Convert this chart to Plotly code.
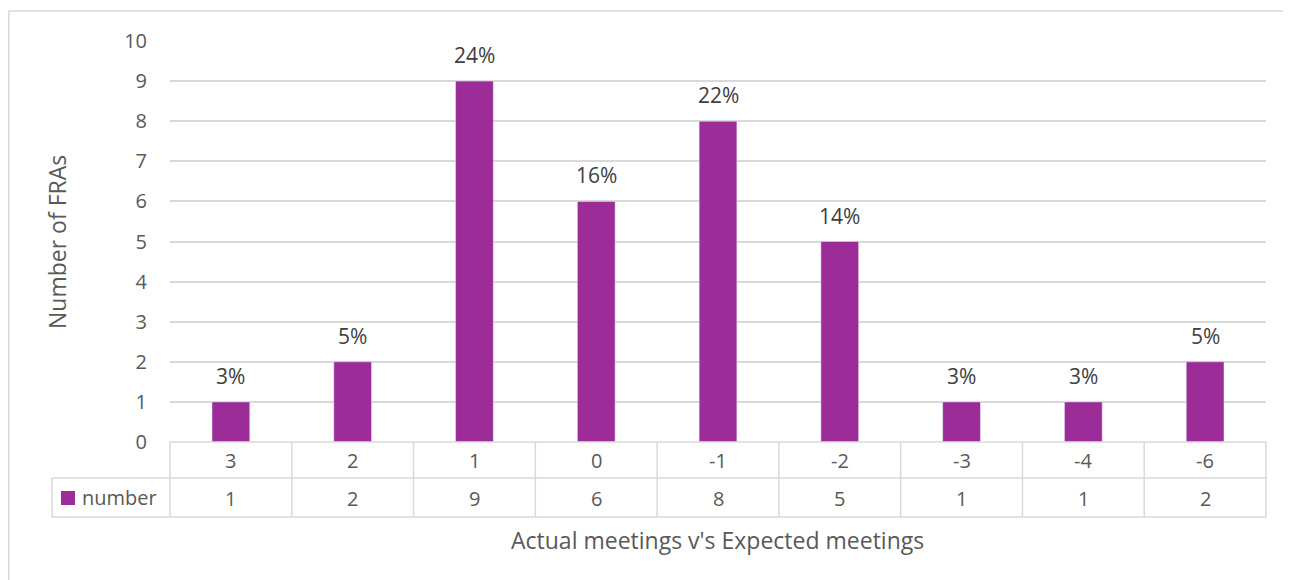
import plotly.graph_objects as go

categories = ["3", "2", "1", "0", "-1", "-2", "-3", "-4", "-6"]
counts = [1, 2, 9, 6, 8, 5, 1, 1, 2]
pct_labels = ["3%", "5%", "24%", "16%", "22%", "14%", "3%", "3%", "5%"]
series_name = "number"

# screen geometry (page has 8px body margin)
OFF = 8
W, H = 1291, 580
L_S, R_S, T_S, B_S = 170, 1266, 41, 442   # plot area in screen px
FW, FH = W - OFF, H - OFF
PW = R_S - L_S
PH = B_S - T_S
BAR = "#9b2c98"
GRID = "#d9d9d9"
TXT = "#595959"
FONT = "Open Sans, Lato, sans-serif"
FS = 20

def px2x(sx):
    return (sx - L_S) / PW

def py2y(sy):
    return (B_S - sy) / PH

x_idx = list(range(len(categories)))

fig = go.Figure()
fig.add_trace(go.Bar(
    x=x_idx, y=counts, marker_color=BAR, width=0.31,
    name=series_name, showlegend=False,
))

shapes = []
row1_bot = py2y(478)
row2_bot = py2y(517)
lw = 1.5
shapes.append(dict(type="line", xref="paper", yref="paper", x0=0, x1=1, y0=0, y1=0,
                   line=dict(color=GRID, width=lw)))
shapes.append(dict(type="line", xref="paper", yref="paper", x0=px2x(52), x1=1, y0=row1_bot, y1=row1_bot,
                   line=dict(color=GRID, width=lw)))
shapes.append(dict(type="line", xref="paper", yref="paper", x0=px2x(52), x1=1, y0=row2_bot, y1=row2_bot,
                   line=dict(color=GRID, width=lw)))
for i in range(len(categories) + 1):
    xp = i / len(categories)
    shapes.append(dict(type="line", xref="paper", yref="paper", x0=xp, x1=xp, y0=0, y1=row2_bot,
                       line=dict(color=GRID, width=lw)))
shapes.append(dict(type="line", xref="paper", yref="paper", x0=px2x(52), x1=px2x(52), y0=row1_bot, y1=row2_bot,
                   line=dict(color=GRID, width=lw)))
# legend swatch
shapes.append(dict(type="rect", xref="paper", yref="paper", x0=px2x(61), x1=px2x(75),
                   y0=py2y(505), y1=py2y(491), fillcolor=BAR, line=dict(width=0)))
# outer chart border
shapes.append(dict(type="rect", xref="paper", yref="paper", x0=px2x(8.8), x1=px2x(1320),
                   y0=py2y(620), y1=py2y(11), line=dict(color=GRID, width=lw),
                   fillcolor="rgba(0,0,0,0)", layer="below"))

annotations = []
for i, (v, p) in enumerate(zip(counts, pct_labels)):
    annotations.append(dict(x=i, xref="x", y=v, yref="y", text=p, showarrow=False,
                            xanchor="center", yanchor="middle", yshift=26,
                            font=dict(size=21, color="#404040", family=FONT)))
for i, (c, v) in enumerate(zip(categories, counts)):
    annotations.append(dict(x=i, xref="x", y=py2y(460), yref="paper", text=c, showarrow=False,
                            xanchor="center", yanchor="middle",
                            font=dict(size=FS, color=TXT, family=FONT)))
    annotations.append(dict(x=i, xref="x", y=py2y(498), yref="paper", text=str(v), showarrow=False,
                            xanchor="center", yanchor="middle",
                            font=dict(size=FS, color=TXT, family=FONT)))
annotations.append(dict(x=px2x(80), xref="paper", y=py2y(497), yref="paper", text=series_name,
                        showarrow=False, xanchor="left", yanchor="middle",
                        font=dict(size=FS, color=TXT, family=FONT)))
annotations.append(dict(x=px2x(717), xref="paper", y=py2y(540), yref="paper",
                        text="Actual meetings v's Expected meetings", showarrow=False,
                        xanchor="center", yanchor="middle",
                        font=dict(size=23, color=TXT, family=FONT)))
annotations.append(dict(x=px2x(57), xref="paper", y=py2y(242), yref="paper", text="Number of FRAs",
                        showarrow=False, textangle=-90, xanchor="center", yanchor="middle",
                        font=dict(size=23, color=TXT, family=FONT)))

fig.update_layout(
    width=FW, height=FH,
    margin=dict(l=L_S - OFF, r=W - R_S, t=T_S - OFF, b=FH - (B_S - OFF), autoexpand=False),
    paper_bgcolor="white", plot_bgcolor="white",
    bargap=0.69,
    shapes=shapes, annotations=annotations,
    xaxis=dict(range=[-0.5, len(categories) - 0.5], showticklabels=False, showgrid=False,
               zeroline=False, showline=False, ticks=""),
    yaxis=dict(range=[0, 10], dtick=1, showgrid=True, gridcolor=GRID, gridwidth=lw,
               zeroline=False, showline=False, ticks="outside", ticklen=18, tickcolor="rgba(0,0,0,0)",
               tickfont=dict(size=FS, color=TXT, family=FONT)),
    font=dict(family=FONT),
)

fig.write_html("out.html")
